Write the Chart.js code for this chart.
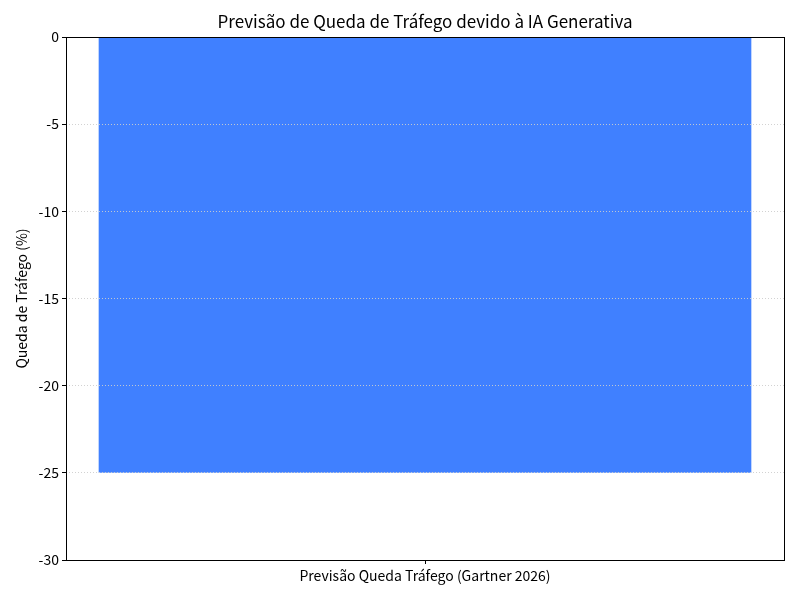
<!DOCTYPE html>
<html>
<head>
<meta charset="utf-8">
<script src="https://cdn.jsdelivr.net/npm/chart.js@4/dist/chart.umd.min.js"></script>
<style>
  html, body { margin: 0; padding: 0; background: #fff; }
  #wrap { width: 800px; height: 600px; }
</style>
</head>
<body>
<div id="wrap"><canvas id="chart" width="800" height="600"></canvas></div>
<script>
// data
var chartTitle = 'Previsão de Queda de Tráfego devido à IA Generativa';
var categories = ['Previsão Queda Tráfego (Gartner 2026)'];
var trafficDrop = [-25];
var yTicks = [0, -5, -10, -15, -20, -25, -30];

var fontFamily = '"Noto Sans CJK JP", "Noto Sans", sans-serif';

// matplotlib-style closed frame around the plot area, title centred on it
var frameBox = {
  id: 'frameBox',
  afterDraw: (chart) => {
    var a = chart.chartArea;
    var ctx = chart.ctx;
    ctx.save();
    ctx.strokeStyle = '#000';
    ctx.lineWidth = 1;
    ctx.strokeRect(Math.round(a.left) + 0.5, Math.round(a.top) + 0.5,
      Math.round(a.right - a.left), Math.round(a.bottom - a.top));
    ctx.fillStyle = '#000';
    ctx.font = '17px ' + fontFamily;
    ctx.textAlign = 'center';
    ctx.textBaseline = 'middle';
    ctx.fillText(chartTitle, (a.left + a.right) / 2, 22);
    ctx.restore();
  }
};

new Chart(document.getElementById('chart').getContext('2d'), {
  type: 'bar',
  data: {
    labels: categories,
    datasets: [{
      data: trafficDrop,
      backgroundColor: 'rgb(64, 128, 255)',
      borderWidth: 0,
      barPercentage: 0.909,
      categoryPercentage: 1.0
    }]
  },
  options: {
    responsive: false,
    animation: false,
    devicePixelRatio: 1,
    layout: { padding: { left: 0, right: 16, top: 37, bottom: 0 } },
    plugins: {
      legend: { display: false },
      tooltip: { enabled: false },
      title: { display: false }
    },
    scales: {
      x: {
        grid: {
          offset: false,
          drawOnChartArea: false,
          tickLength: 4,
          tickColor: '#000',
          tickWidth: 1
        },
        border: { display: false },
        ticks: {
          color: '#000',
          padding: 3,
          font: { family: fontFamily, size: 14 }
        },
        afterFit: (scale) => { scale.height = 40; }
      },
      y: {
        min: -30,
        max: 0,
        z: 1,
        afterBuildTicks: (scale) => {
          scale.ticks = yTicks.map((v) => ({ value: v }));
        },
        grid: {
          z: 1,
          color: 'rgba(205, 205, 205, 0.9)',
          lineWidth: 1,
          tickLength: 4,
          tickColor: '#000',
          tickWidth: 1,
          tickBorderDash: []
        },
        border: { display: false, dash: [1, 2] },
        ticks: {
          color: '#000',
          padding: 3,
          font: { family: fontFamily, size: 14 }
        },
        title: {
          display: true,
          text: 'Queda de Tráfego (%)',
          color: '#000',
          font: { family: fontFamily, size: 14 },
          padding: { top: 13, bottom: 0 }
        },
        afterFit: (scale) => { scale.width = 66; }
      }
    }
  },
  plugins: [frameBox]
});
</script>
</body>
</html>
